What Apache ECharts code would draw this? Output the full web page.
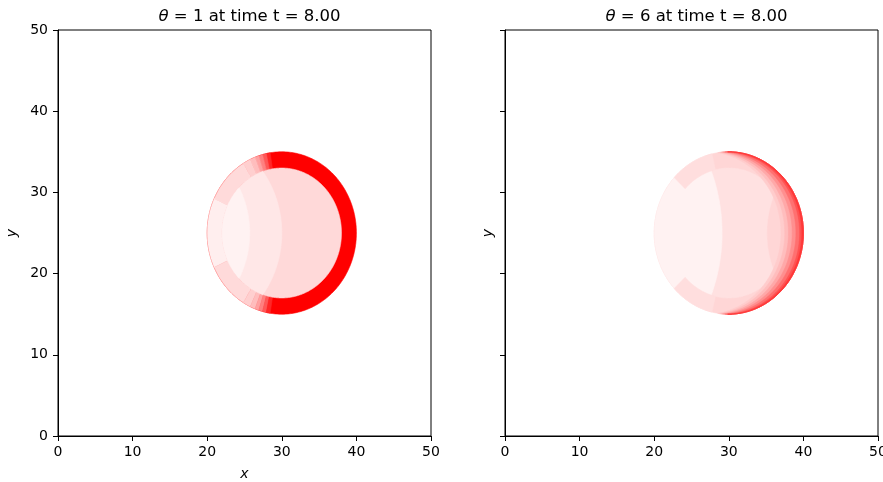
<!DOCTYPE html>
<html><head><meta charset="utf-8">
<script src="https://cdn.jsdelivr.net/npm/echarts/dist/echarts.min.js"></script>
<style>html,body{margin:0;padding:0;background:#fff}#c{width:883px;height:482px}</style>
</head><body><div id="c"></div>
<script>
// ---- data ----
const thetas = [1, 6];
const timeValue = '8.00';
const axisRange = [0, 50];
const tickStep = 10;

// annulus / disc sectors: [cx, cy, rInner, rOuter, angleStart(deg), angleEnd(deg), value]
const leftRings = [
  [30, 25, 0, 10, 0, 360, 1.0],
  [30, 25, 8, 10, 99, 102, 0.85],
  [30, 25, 8, 10, 102, 105, 0.66],
  [30, 25, 8, 10, 105, 108, 0.5],
  [30, 25, 8, 10, 108, 111, 0.37],
  [30, 25, 8, 10, 111, 115, 0.26],
  [30, 25, 8, 10, 115, 121, 0.19],
  [30, 25, 8, 10, 121, 155, 0.145],
  [30, 25, 8, 10, 155, 205, 0.065],
  [30, 25, 8, 10, 205, 239, 0.145],
  [30, 25, 8, 10, 239, 245, 0.19],
  [30, 25, 8, 10, 245, 249, 0.26],
  [30, 25, 8, 10, 249, 252, 0.37],
  [30, 25, 8, 10, 252, 255, 0.5],
  [30, 25, 8, 10, 255, 258, 0.66],
  [30, 25, 8, 10, 258, 261, 0.85]
];
// two-disc regions: [ax, ay, ra, bx, by, rb, value, mode]  mode 1: A∩B, mode -1: A minus B
const leftLenses = [
  [30, 25, 8, 30, 25, 8, 0.15, 1],
  [30, 25, 8, 17.4, 25, 12.6, 0.095, 1],
  [30, 25, 8, 14, 25, 11.7, 0.05, 1]
];
const rightLenses = [
  [30, 25, 10, 30, 25, 10, 0.16, 1],
  [30, 25, 8, 47, 25, 11.9, 0.118, -1],
  [30, 25, 10, 8.3, 25, 20.8, 0.05, 1]
];
const rightRings = [
  [30, 25, 8, 10, 103, 137, 0.13],
  [30, 25, 8, 10, 223, 257, 0.13]
];
const rightCrescents = [
  [30, 25, 10, 27.0, 25, 10, 0.2, -1],
  [30, 25, 10, 27.5, 25, 10, 0.26, -1],
  [30, 25, 10, 28.0, 25, 10, 0.34, -1],
  [30, 25, 10, 28.5, 25, 10, 0.44, -1],
  [30, 25, 10, 29.0, 25, 10, 0.56, -1],
  [30, 25, 10, 29.5, 25, 10, 0.68, -1],
  [30, 25, 10, 29.8, 25, 10, 0.78, -1]
];

// ---- rendering ----
const FONT = 'DejaVu Sans';
function ringItem(params, api) {
  const cx = api.value(0), cy = api.value(1), r0 = api.value(2), r1 = api.value(3);
  const a0 = api.value(4), a1 = api.value(5);
  const n = Math.max(8, Math.ceil(Math.abs(a1 - a0) / 1));
  const pts = [];
  for (let i = 0; i <= n; i++) {
    const a = (a0 + (a1 - a0) * i / n) * Math.PI / 180;
    pts.push(api.coord([cx + r1 * Math.cos(a), cy + r1 * Math.sin(a)]));
  }
  if (r0 > 0) {
    for (let i = n; i >= 0; i--) {
      const a = (a0 + (a1 - a0) * i / n) * Math.PI / 180;
      pts.push(api.coord([cx + r0 * Math.cos(a), cy + r0 * Math.sin(a)]));
    }
  } else if (Math.abs(a1 - a0) < 360) {
    pts.push(api.coord([cx, cy]));
  }
  const c = api.visual('color');
  return {type: 'polygon', shape: {points: pts}, style: {fill: c, stroke: c, lineWidth: 0.6}};
}
function runOf(flags, pts) {
  const N = flags.length;
  let s = -1;
  for (let i = 0; i < N; i++) if (flags[i] && !flags[(i - 1 + N) % N]) { s = i; break; }
  if (s < 0) return flags[0] ? pts.slice() : [];
  const out = [];
  for (let k = 0; k < N; k++) { const i = (s + k) % N; if (!flags[i]) break; out.push(pts[i]); }
  return out;
}
function lensItem(params, api) {
  const ax = api.value(0), ay = api.value(1), ra = api.value(2);
  const bx = api.value(3), by = api.value(4), rb = api.value(5);
  const mode = api.value(7);
  const N = 720, A = [], B = [], fa = [], fb = [];
  for (let i = 0; i < N; i++) {
    const t = 2 * Math.PI * i / N;
    const px = ax + ra * Math.cos(t), py = ay + ra * Math.sin(t);
    A.push([px, py]);
    const inB = Math.hypot(px - bx, py - by) <= rb + 1e-9;
    fa.push(mode > 0 ? inB : !inB);
    const qx = bx + rb * Math.cos(t), qy = by + rb * Math.sin(t);
    B.push([qx, qy]);
    fb.push(Math.hypot(qx - ax, qy - ay) <= ra + 1e-9);
  }
  let pts;
  if (mode > 0) {
    pts = [];
    A.forEach((p, i) => { if (fa[i]) pts.push(p); });
    B.forEach((p, i) => { if (fb[i]) pts.push(p); });
    if (pts.length < 3) return null;
    let mx = 0, my = 0;
    pts.forEach(p => { mx += p[0]; my += p[1]; });
    mx /= pts.length; my /= pts.length;
    pts.sort((p, q) => Math.atan2(p[1] - my, p[0] - mx) - Math.atan2(q[1] - my, q[0] - mx));
  } else {
    const ra1 = runOf(fa, A), rb1 = runOf(fb, B).reverse();
    pts = ra1.concat(rb1);
    if (pts.length < 3) return null;
  }
  const c = api.visual('color');
  return {type: 'polygon', shape: {points: pts.map(p => api.coord(p))}, style: {fill: c, stroke: c, lineWidth: 0.6}};
}

const gridW = 373, gridH = 406, gridTop = 30;
const gridLefts = [58, 505];
const labelStyle = {fontFamily: FONT, fontSize: 14, color: '#000'};
function xAxisCfg(i, name) {
  return {
    type: 'value', gridIndex: i, min: axisRange[0], max: axisRange[1], interval: tickStep,
    name: name, nameLocation: 'middle', nameGap: 31,
    nameTextStyle: {fontFamily: FONT, fontSize: 14, fontStyle: 'italic', color: '#000'},
    axisLine: {show: true, lineStyle: {color: '#000', width: 1}},
    axisTick: {show: true, length: 5, lineStyle: {color: '#000'}},
    axisLabel: Object.assign({show: true, margin: 9}, labelStyle),
    splitLine: {show: false}
  };
}
function yAxisCfg(i, showLabels, gap) {
  return {
    type: 'value', gridIndex: i, min: axisRange[0], max: axisRange[1], interval: tickStep,
    name: 'y', nameLocation: 'middle', nameGap: gap,
    nameTextStyle: {fontFamily: FONT, fontSize: 14, fontStyle: 'italic', color: '#000'},
    axisLine: {show: true, lineStyle: {color: '#000', width: 1}},
    axisTick: {show: true, length: 5, lineStyle: {color: '#000'}},
    axisLabel: Object.assign({show: showLabels, margin: 10}, labelStyle),
    splitLine: {show: false}
  };
}
function titleCfg(i) {
  return {
    text: '{i|θ} = ' + thetas[i] + ' at time t = ' + timeValue,
    left: gridLefts[i] + gridW / 2, textAlign: 'center', top: 3,
    textStyle: {fontFamily: FONT, fontSize: 16.5, fontWeight: 'normal', color: '#000',
      rich: {i: {fontFamily: FONT, fontSize: 16.5, fontStyle: 'italic', color: '#000'}}}
  };
}

const chart = echarts.init(document.getElementById('c'), null, {renderer: 'canvas'});
chart.setOption({
  animation: false,
  backgroundColor: '#fff',
  title: [titleCfg(0), titleCfg(1)],
  grid: gridLefts.map(l => ({left: l, top: gridTop, width: gridW, height: gridH,
    containLabel: false, outerBoundsMode: 'none',
    show: true, borderColor: '#000', borderWidth: 1, backgroundColor: 'transparent'})),
  xAxis: [xAxisCfg(0, 'x'), xAxisCfg(1, '')],
  yAxis: [yAxisCfg(0, true, 39), yAxisCfg(1, false, 10)],
  visualMap: {type: 'continuous', show: false, min: 0, max: 1, dimension: 6,
    seriesIndex: [0, 1, 2, 3, 4], inRange: {color: ['#ffffff', '#ff0000']}},
  series: [
    {type: 'custom', xAxisIndex: 0, yAxisIndex: 0, renderItem: ringItem, data: leftRings, encode: {x: 0, y: 1}},
    {type: 'custom', xAxisIndex: 0, yAxisIndex: 0, renderItem: lensItem, data: leftLenses, encode: {x: 0, y: 1}},
    {type: 'custom', xAxisIndex: 1, yAxisIndex: 1, renderItem: lensItem, data: rightLenses, encode: {x: 0, y: 1}},
    {type: 'custom', xAxisIndex: 1, yAxisIndex: 1, renderItem: ringItem, data: rightRings, encode: {x: 0, y: 1}},
    {type: 'custom', xAxisIndex: 1, yAxisIndex: 1, renderItem: lensItem, data: rightCrescents, encode: {x: 0, y: 1}}
  ]
});
</script></body></html>
